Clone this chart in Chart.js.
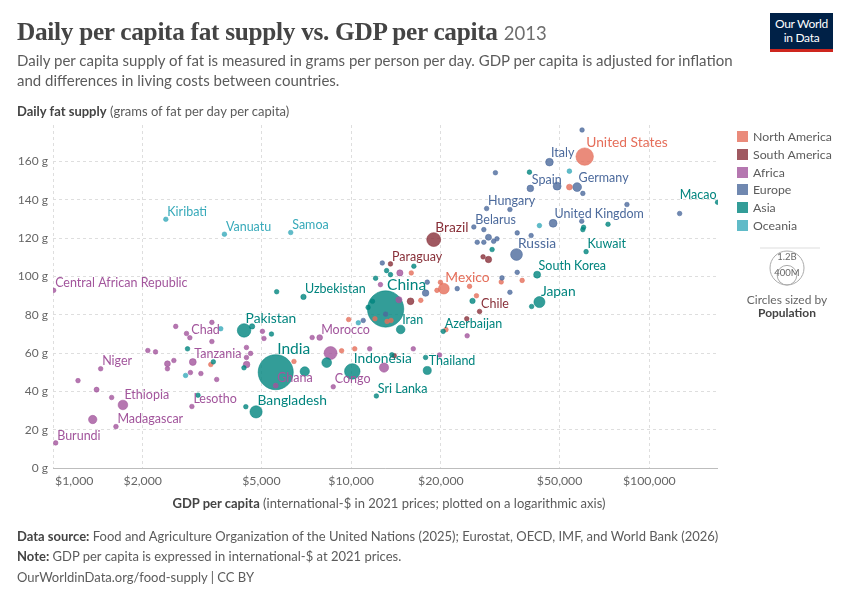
<!DOCTYPE html>
<html>
<head>
<meta charset="utf-8">
<script src="https://cdn.jsdelivr.net/npm/chart.js@4.4.1/dist/chart.umd.min.js"></script>
<style>
  body { margin: 0; background: #fff; font-family: Lato, sans-serif; color: #5b5b5b; }
  #wrap { position: relative; width: 850px; height: 600px; overflow: hidden; }
  #chart { position: absolute; left: 0; top: 0; }
  .t { position: absolute; white-space: nowrap; }
  #title { left: 17px; top: 15px; font-family: "Liberation Serif", serif; font-weight: bold; font-size: 25.3px; line-height: 32px; color: #444; letter-spacing: -0.3px; }
  #title span { font-family: Lato, sans-serif; font-weight: normal; font-size: 18.5px; color: #6e6e6e; letter-spacing: 0; }
  #subtitle { left: 17px; top: 51px; font-size: 15px; line-height: 19.5px; color: #5b5b5b; }
  #ytitle { left: 17px; top: 103px; font-size: 13px; line-height: 16px; }
  #xtitle { left: 53px; width: 672px; top: 495px; text-align: center; font-size: 13px; line-height: 16px; }
  b { color: #444; }
  .foot { left: 17px; font-size: 13px; line-height: 16px; }
  #logo { position: absolute; left: 770px; top: 13px; width: 63px; background: #002147; border-bottom: 3px solid #ce261e;
          color: #fff; font-size: 12px; line-height: 14px; text-align: center; padding-top: 4px; box-sizing: content-box; height: 32px; letter-spacing: -0.3px; }
  .leg { left: 737px; font-size: 12.3px; line-height: 16px; color: #5b5b5b; }
  .sw { display: inline-block; width: 11px; height: 11px; margin-right: 5px; vertical-align: -1px; opacity: 0.8; }
</style>
</head>
<body>
<div id="wrap">
  <canvas id="chart" width="850" height="600"></canvas>
  <div class="t" id="title">Daily per capita fat supply vs. GDP per capita <span>2013</span></div>
  <div class="t" id="subtitle">Daily per capita supply of fat is measured in grams per person per day. GDP per capita is adjusted for inflation<br>and differences in living costs between countries.</div>
  <div class="t" id="ytitle"><b>Daily fat supply</b> (grams of fat per day per capita)</div>
  <div class="t" id="xtitle"><b>GDP per capita</b> (international-$ in 2021 prices; plotted on a logarithmic axis)</div>
  <div class="t foot" style="top:528px"><b>Data source:</b> Food and Agriculture Organization of the United Nations (2025); Eurostat, OECD, IMF, and World Bank (2026)</div>
  <div class="t foot" style="top:548px"><b>Note:</b> GDP per capita is expressed in international-$ at 2021 prices.</div>
  <div class="t foot" style="top:569px">OurWorldinData.org/food-supply | CC BY</div>
  <div id="logo">Our World<br>in Data</div>
  <div id="legend"></div>
  <svg class="t" style="left:760px;top:240px" width="60" height="50">
    <line x1="-22" y1="8" x2="74" y2="8" stroke="#ddd"/>
    <circle cx="27" cy="28" r="17" fill="none" stroke="#aaa"/>
    <circle cx="27" cy="35.2" r="9.8" fill="none" stroke="#aaa"/>
    <text x="27" y="20" text-anchor="middle" font-family="Lato" font-size="9.5" fill="#666">1.2B</text>
    <text x="27" y="36" text-anchor="middle" font-family="Lato" font-size="9.5" fill="#666">400M</text>
  </svg>
  <div class="t" style="left:727px;width:120px;top:292px;text-align:center;font-size:12px;line-height:16px;color:#666">Circles sized by</div>
  <div class="t" style="left:727px;width:120px;top:305px;text-align:center;font-size:12px;line-height:16px;"><b>Population</b></div>
</div>
<script>
// continents and their colours
const continents = ["North America", "South America", "Africa", "Europe", "Asia", "Oceania"];
const continentColors = ["#E56E5A", "#883039", "#A2559C", "#4C6A9C", "#00847E", "#38AABA"];

// rows: [label shown on chart, GDP per capita ($), fat supply (g/day), population (millions)]
const northAmerica = [
  ["United States", 60720, 162.5, 316],
  ["", 53950, 146.6, 35],
  ["Mexico", 20460, 93.6, 120],
  ["", 19930, 96.9, 4],
  ["", 19400, 92.7, 5],
  ["", 24950, 94.8, 1.3],
  ["", 26320, 89.9, 0.3],
  ["", 31870, 97.1, 0.4],
  ["", 37460, 97.9, 0.1],
  ["", 15910, 101.8, 10],
  ["", 17120, 87.5, 0.2],
  ["", 12020, 77.9, 11],
  ["", 13200, 76.5, 2.8],
  ["", 13610, 77.0, 0.3],
  ["", 9810, 77.5, 6.3],
  ["", 9290, 61.2, 15],
  ["", 10280, 62.2, 8],
  ["", 6430, 55.6, 6],
  ["", 3382, 54.0, 10],
  ["", 20800, 72.2, 0.1]
];
const southAmerica = [
  ["Brazil", 18920, 119.2, 201],
  ["Paraguay", 13550, 106.5, 6.5],
  ["Chile", 26960, 81.7, 17.6],
  ["", 27700, 110.2, 3.4],
  ["", 28880, 108.8, 42],
  ["", 15820, 87.0, 47],
  ["", 24420, 77.9, 16],
  ["", 13950, 58.6, 10]
];
const africa = [
  ["Central African Republic", 1005, 92.7, 4.6],
  ["Burundi", 1021, 13.1, 10],
  ["Madagascar", 1626, 21.6, 23],
  ["", 1359, 25.3, 72],
  ["Ethiopia", 1716, 32.9, 96],
  ["", 1573, 36.8, 16],
  ["", 1400, 40.9, 26],
  ["", 1213, 45.6, 4],
  ["Niger", 1445, 51.8, 18],
  ["", 2080, 61.3, 12],
  ["", 2207, 60.6, 11],
  ["", 2420, 54.4, 36],
  ["", 2420, 51.8, 17],
  ["", 2543, 56.1, 20],
  ["", 2580, 73.9, 2],
  ["", 2804, 70.2, 2],
  ["Chad", 2877, 68.0, 13],
  ["", 3411, 76.0, 14],
  ["", 3411, 66.0, 10],
  ["Tanzania", 2944, 55.3, 49],
  ["", 2890, 49.8, 7],
  ["", 3133, 49.3, 15],
  ["", 3540, 46.2, 0.7],
  ["Lesotho", 2923, 32.1, 2],
  ["", 5040, 71.3, 4],
  ["", 5100, 67.6, 22],
  ["", 4455, 62.9, 8],
  ["", 4600, 59.8, 22],
  ["", 4455, 57.7, 10],
  ["", 4460, 54.0, 45],
  ["Ghana", 5585, 43.0, 26],
  ["", 8530, 60.0, 174],
  ["Morocco", 7843, 68.1, 34],
  ["", 7400, 68.1, 1.2],
  ["Congo", 8710, 42.4, 4.5],
  ["", 11540, 62.2, 2],
  ["", 16160, 62.2, 1.2],
  ["", 12890, 52.4, 88],
  ["", 14460, 87.8, 40],
  ["", 12540, 95.7, 11],
  ["", 24500, 69.0, 2],
  ["", 19800, 59.0, 1.3],
  ["", 14570, 101.8, 40]
];
const europe = [
  ["", 59500, 176.4, 8.5],
  ["Italy", 46250, 159.6, 60],
  ["", 30470, 154.1, 11],
  ["Spain", 39910, 145.9, 46],
  ["", 49080, 147.1, 66],
  ["Germany", 57270, 146.6, 81],
  ["", 59850, 143.3, 11],
  ["", 84140, 137.5, 8],
  ["", 126400, 132.8, 0.5],
  ["Hungary", 28470, 135.4, 9.9],
  ["", 34080, 134.9, 10],
  ["United Kingdom", 47580, 127.7, 64],
  ["", 59350, 128.8, 17],
  ["", 36060, 122.7, 2],
  ["", 40150, 121.3, 5],
  ["Belarus", 25790, 125.8, 9.5],
  ["", 27860, 124.4, 4],
  ["", 28880, 120.4, 38],
  ["", 26480, 117.8, 3],
  ["", 27860, 117.8, 7],
  ["", 30060, 118.3, 5],
  ["", 30830, 119.6, 2],
  ["Russia", 35860, 111.4, 144],
  ["", 36060, 102.1, 2],
  ["", 32060, 99.2, 1.3],
  ["", 34080, 91.7, 0.4],
  ["", 12720, 107.0, 3.5],
  ["", 18000, 97.0, 7],
  ["", 17770, 91.3, 45],
  ["", 22690, 93.6, 3],
  ["", 13050, 80.3, 2.9],
  ["", 10980, 77.0, 3]
];
const asia = [
  ["China", 13050, 83.0, 1370],
  ["India", 5585, 50.0, 1280],
  ["Indonesia", 10090, 50.4, 250],
  ["Pakistan", 4374, 71.8, 190],
  ["Bangladesh", 4798, 29.3, 155],
  ["Japan", 42800, 86.6, 127],
  ["", 8280, 55.0, 98],
  ["", 6990, 50.4, 90],
  ["Iran", 14660, 72.3, 77],
  ["Thailand", 18000, 50.9, 68],
  ["", 4433, 32.0, 8],
  ["South Korea", 42050, 100.9, 50],
  ["Uzbekistan", 6920, 89.3, 30],
  ["", 5626, 92.0, 6],
  ["Sri Lanka", 12150, 37.6, 20],
  ["Azerbaijan", 20360, 71.3, 9.4],
  ["Kuwait", 61380, 112.9, 3.6],
  ["Macao", 169400, 138.7, 0.6],
  ["", 4652, 73.9, 30],
  ["", 5404, 69.9, 8],
  ["", 4370, 52.3, 15],
  ["", 2826, 62.2, 10],
  ["", 3450, 55.4, 8],
  ["", 3064, 38.0, 10],
  ["", 13700, 59.1, 5],
  ["", 17770, 57.7, 1],
  ["", 11790, 87.0, 8],
  ["", 11400, 83.8, 3],
  ["", 16230, 105.3, 6],
  ["", 13150, 103.0, 3],
  ["", 13550, 100.9, 4],
  ["", 12080, 99.0, 3],
  ["", 29700, 114.0, 2],
  ["", 25530, 87.2, 30],
  ["", 40300, 84.3, 4],
  ["", 39630, 154.4, 8],
  ["", 59850, 124.4, 2],
  ["", 60200, 125.6, 5],
  ["", 72700, 127.2, 2]
];
const oceania = [
  ["Kiribati", 2390, 129.8, 0.1],
  ["Vanuatu", 3758, 122.0, 0.25],
  ["Samoa", 6270, 122.9, 0.2],
  ["", 53950, 154.9, 23],
  ["", 42800, 126.5, 4.4],
  ["", 3653, 72.7, 0.6],
  ["", 2784, 48.3, 8],
  ["", 10570, 75.8, 0.9]
];

const xTickValues = [1000, 2000, 5000, 10000, 20000, 50000, 100000];
const xTickLabels = ["$1,000", "$2,000", "$5,000", "$10,000", "$20,000", "$50,000", "$100,000"];
const yTickValues = [0, 20, 40, 60, 80, 100, 120, 140, 160];

function hexA(hex, a) {
  const n = parseInt(hex.slice(1), 16);
  return `rgba(${n >> 16},${(n >> 8) & 255},${n & 255},${a})`;
}
const radius = pop => Math.max(2.3, 17.7 * Math.sqrt(pop / 1300));

const points = [];
[northAmerica, southAmerica, africa, europe, asia, oceania].forEach((rows, ci) => {
  rows.forEach(([label, gdp, fat, pop]) => {
    points.push({ x: gdp, y: fat, r: radius(pop), label, pop, color: continentColors[ci] });
  });
});
points.sort((a, b) => b.r - a.r);

// legend
document.getElementById('legend').innerHTML = continents.map((c, i) =>
  `<div class="t leg" style="top:${129 + i * 17.8}px"><span class="sw" style="background:${continentColors[i]}"></span>${c}</div>`
).join('');

const labelPlugin = {
  id: 'countryLabels',
  afterDatasetsDraw(chart) {
    const ctx = chart.ctx;
    const meta = chart.getDatasetMeta(0);
    const xs = chart.scales.x, area = chart.chartArea;
    ctx.save();
    // baseline
    ctx.strokeStyle = '#bdbdbd';
    ctx.lineWidth = 1;
    ctx.beginPath();
    ctx.moveTo(area.left, Math.round(area.bottom) + 0.5);
    ctx.lineTo(area.right, Math.round(area.bottom) + 0.5);
    ctx.stroke();
    // x tick labels
    ctx.font = '12.3px Lato';
    ctx.fillStyle = '#666';
    ctx.textBaseline = 'middle';
    xTickValues.forEach((v, i) => {
      const px = xs.getPixelForValue(v);
      ctx.textAlign = i === 0 ? 'left' : 'center';
      ctx.fillText(xTickLabels[i], i === 0 ? px + 2 : px, area.bottom + 13);
    });
    // country labels
    ctx.textBaseline = 'alphabetic';
    points.forEach((p, i) => {
      if (!p.label) return;
      const el = meta.data[i];
      const size = p.pop > 1000 ? 15.5 : p.pop >= 100 ? 13.8 : 12.5;
      ctx.font = size + 'px Lato';
      ctx.fillStyle = p.color;
      const onLeft = p.label === 'Macao';
      ctx.textAlign = onLeft ? 'right' : 'left';
      ctx.fillText(p.label, el.x + (onLeft ? -1 : 1.5), el.y - p.r - 1);
    });
    ctx.restore();
  }
};

new Chart(document.getElementById('chart'), {
  type: 'bubble',
  data: {
    datasets: [{
      data: points,
      backgroundColor: points.map(p => hexA(p.color, 0.8)),
      borderColor: points.map(p => hexA(p.color, 0.9)),
      borderWidth: 0.6
    }]
  },
  options: {
    responsive: false,
    animation: false,
    layout: { padding: { left: 0, right: 132, top: 125, bottom: 112 } },
    plugins: { legend: { display: false }, tooltip: { enabled: false } },
    scales: {
      x: {
        type: 'logarithmic',
        min: 1000,
        max: 170000,
        afterBuildTicks: s => { s.ticks = xTickValues.map(v => ({ value: v })); },
        afterFit: s => { s.height = 20; },
        ticks: { display: false },
        grid: { color: '#dedede', drawTicks: false },
        border: { display: false, dash: [3, 3] }
      },
      y: {
        min: 0,
        max: 179,
        afterBuildTicks: s => { s.ticks = yTickValues.map(v => ({ value: v })); },
        afterFit: s => { s.width = 53; },
        ticks: { callback: v => v + ' g', font: { family: 'Lato', size: 12 }, color: '#666', padding: 5 },
        grid: { color: '#dedede', drawTicks: false },
        border: { display: false, dash: [3, 3] }
      }
    }
  },
  plugins: [labelPlugin]
});
</script>
</body>
</html>
